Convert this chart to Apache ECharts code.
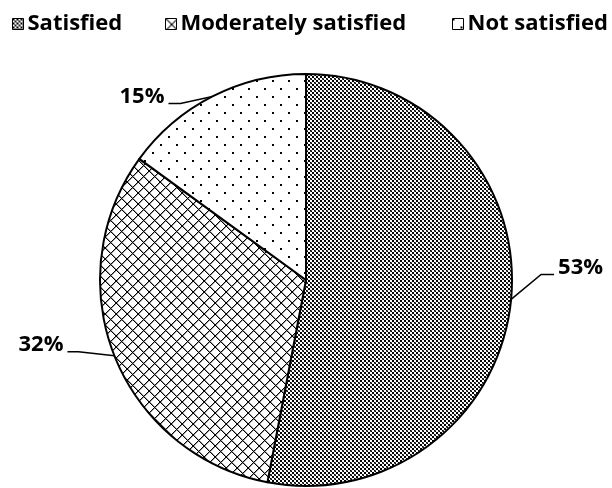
<!DOCTYPE html>
<html>
<head>
<meta charset="utf-8">
<script src="https://cdn.jsdelivr.net/npm/echarts@6/dist/echarts.min.js"></script>
<style>
  html, body { margin: 0; padding: 0; background: #fff; }
  #chart { width: 612px; height: 488px; }
</style>
</head>
<body>
<div id="chart"></div>
<script>
// Survey answers and their shares (percent)
const categories = ['Satisfied', 'Moderately satisfied', 'Not satisfied'];
const shares = [53, 32, 15];

const FONT = '"Open Sans"';

// Small repeating bitmap tiles used as hatch fills
function makeTile(w, h, paint) {
  const c = document.createElement('canvas');
  c.width = w; c.height = h;
  const ctx = c.getContext('2d');
  ctx.fillStyle = '#fff';
  ctx.fillRect(0, 0, w, h);
  paint(ctx);
  return c;
}

// dense lattice of black blocks with small diagonal ticks between them
const tileDense = makeTile(8, 8, ctx => {
  ctx.fillStyle = '#000';
  [[0, 0], [4, 0], [0, 4], [4, 4]].forEach(p => ctx.fillRect(p[0], p[1], 2, 2));
  [[2, 2], [6, 2], [2, 6], [6, 6]].forEach(p => {
    ctx.fillStyle = '#000';
    ctx.fillRect(p[0], p[1], 1, 1);
    ctx.fillRect(p[0] + 1, p[1] + 1, 1, 1);
    ctx.fillStyle = '#4a4a4a';
    ctx.fillRect(p[0] + 1, p[1], 1, 1);
    ctx.fillRect(p[0], p[1] + 1, 1, 1);
  });
});

// outlined diamond lattice
const tileDiamond = makeTile(11, 11, ctx => {
  const n = 11;
  for (let x = 0; x < n; x++) {
    for (let y = 0; y < n; y++) {
      const d1 = (x + y) % n;
      const d2 = ((x - y) % n + n) % n;
      if (d1 === 0 || d2 === 0) {
        ctx.fillStyle = '#000';
        ctx.fillRect(x, y, 1, 1);
      } else if (d1 === 1 || d2 === 1) {
        ctx.fillStyle = '#9a9a9a';
        ctx.fillRect(x, y, 1, 1);
      }
    }
  }
});

// sparse staggered dots
const tileDots = makeTile(16, 16, ctx => {
  ctx.fillStyle = '#000';
  ctx.fillRect(0, 0, 2, 2);
  ctx.fillRect(8, 8, 2, 2);
});

const tiles = [tileDense, tileDiamond, tileDots];

// leader line shape for each label: elbow offset from the rim, then a short horizontal run
const leaders = [
  { dx: 30, dy: -25, run: 13 },
  { dx: -36, dy: -4, run: 11 },
  { dx: -32, dy: 7, run: 12 }
];
const legendLeft = [12, 165, 452];

const chart = echarts.init(document.getElementById('chart'), null, { renderer: 'canvas' });

const textStyle = {
  fontFamily: FONT,
  fontWeight: 'bold',
  fontSize: 22,
  color: '#000'
};

chart.setOption({
  animation: false,
  backgroundColor: '#fff',
  legend: categories.map((name, i) => ({
    data: [name],
    left: legendLeft[i],
    top: 13,
    padding: 0,
    icon: 'rect',
    itemWidth: 11,
    itemHeight: 11,
    itemGap: 0,
    selectedMode: false,
    itemStyle: { borderColor: '#000', borderWidth: 1 },
    textStyle: Object.assign({ padding: [0, 0, 0, -1] }, textStyle)
  })),
  series: [{
    type: 'pie',
    center: [306, 280],
    radius: 206,
    startAngle: 90,
    clockwise: true,
    avoidLabelOverlap: false,
    emphasis: { disabled: true },
    itemStyle: { borderColor: '#000', borderWidth: 2 },
    data: categories.map((name, i) => ({
      name: name,
      value: shares[i],
      itemStyle: { color: { image: tiles[i], repeat: 'repeat' } }
    })),
    label: Object.assign({
      show: true,
      position: 'outside',
      formatter: '{c}%'
    }, textStyle),
    labelLine: {
      show: true,
      length: 10,
      length2: 10,
      smooth: false,
      lineStyle: { color: '#000', width: 1.5 }
    },
    labelLayout: function (params) {
      const k = leaders[params.dataIndex];
      const p0 = params.labelLinePoints[0];
      const dir = k.dx > 0 ? 1 : -1;
      const p1 = [p0[0] + k.dx, p0[1] + k.dy];
      const p2 = [p1[0] + dir * k.run, p1[1]];
      return {
        x: p2[0] + dir * 4,
        y: p2[1] - 7,
        align: dir > 0 ? 'left' : 'right',
        verticalAlign: 'middle',
        labelLinePoints: [[p0[0], p0[1]], p1, p2]
      };
    }
  }]
});
</script>
</body>
</html>
